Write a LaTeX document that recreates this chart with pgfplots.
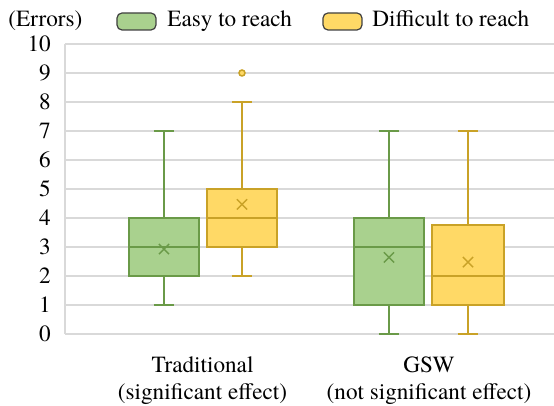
\documentclass[border=0pt]{standalone}
\usepackage{fontspec}
\setmainfont{TeX Gyre Termes}
\usepackage{pgfplots}
\pgfplotsset{compat=1.18}
\usepgfplotslibrary{statistics}

\definecolor{gFill}{HTML}{A9D18E}
\definecolor{gEdge}{HTML}{6A9A48}
\definecolor{yFill}{HTML}{FFD966}
\definecolor{yEdge}{HTML}{C9A227}
\definecolor{gridgray}{HTML}{D9D9D9}

\begin{document}
\begin{tikzpicture}[font=\fontsize{11.6}{13.5}\selectfont]
\useasboundingbox (0,0) rectangle (277pt,203pt);
\begin{axis}[
  at={(32.5pt,36pt)}, anchor=south west,
  scale only axis, width=244.5pt, height=145pt,
  xmin=65, xmax=554, ymin=0, ymax=10,
  ytick={0,1,...,10},
  xtick={202.5,429},
  xticklabels={{Traditional\\(significant effect)},{GSW\\(not significant effect)}},
  xticklabel style={align=center, yshift=-8pt},
  yticklabel style={xshift=-3.6pt},
  major tick length=0pt,
  ymajorgrids, grid style={gridgray, line width=0.6pt},
  axis lines*=left, axis line style={gridgray, line width=0.6pt},
  /pgf/number format/assume math mode=true,
  clip=false,
  boxplot/draw direction=y,
  boxplot/box extend=70,
  boxplot/whisker extend=20,
]
% Traditional - easy
\addplot+[boxplot prepared={draw position=164,
  lower whisker=1, lower quartile=2, median=3, upper quartile=4, upper whisker=7},
  solid, draw=gEdge, fill=gFill, line width=0.75pt, mark=none] coordinates {};
% Traditional - difficult
\addplot+[boxplot prepared={draw position=242,
  lower whisker=2, lower quartile=3, median=4, upper quartile=5, upper whisker=8},
  solid, draw=yEdge, fill=yFill, line width=0.75pt,
  mark=*, mark size=1.5pt, mark options={draw=yEdge, fill=yFill, line width=0.75pt}] coordinates {(0,9)};
% GSW - easy
\addplot+[boxplot prepared={draw position=389,
  lower whisker=0, lower quartile=1, median=3, upper quartile=4, upper whisker=7},
  solid, draw=gEdge, fill=gFill, line width=0.75pt, mark=none] coordinates {};
% GSW - difficult
\addplot+[boxplot prepared={draw position=468, box extend=72,
  lower whisker=0, lower quartile=1, median=2, upper quartile=3.75, upper whisker=7},
  solid, draw=yEdge, fill=yFill, line width=0.75pt, mark=none] coordinates {};
% means
\addplot[only marks, mark=x, mark size=3.6pt, gEdge, line width=0.7pt] coordinates {(164,2.93) (389,2.64)};
\addplot[only marks, mark=x, mark size=3.6pt, yEdge, line width=0.7pt] coordinates {(242,4.47) (468,2.48)};
\end{axis}
% legend
\node[anchor=base west, inner sep=0pt] at (4pt,189.5pt) {(Errors)};
\draw[fill=gFill, draw=black!75, line width=0.6pt, rounded corners=2.5pt] (58.5pt,188pt) rectangle (78pt,196.5pt);
\node[anchor=base west, inner sep=0pt] at (83.5pt,189.5pt) {Easy to reach};
\draw[fill=yFill, draw=black!75, line width=0.6pt, rounded corners=2.5pt] (161.5pt,188pt) rectangle (181pt,196.5pt);
\node[anchor=base west, inner sep=0pt] at (186pt,189.5pt) {Difficult to reach};
\end{tikzpicture}
\end{document}
